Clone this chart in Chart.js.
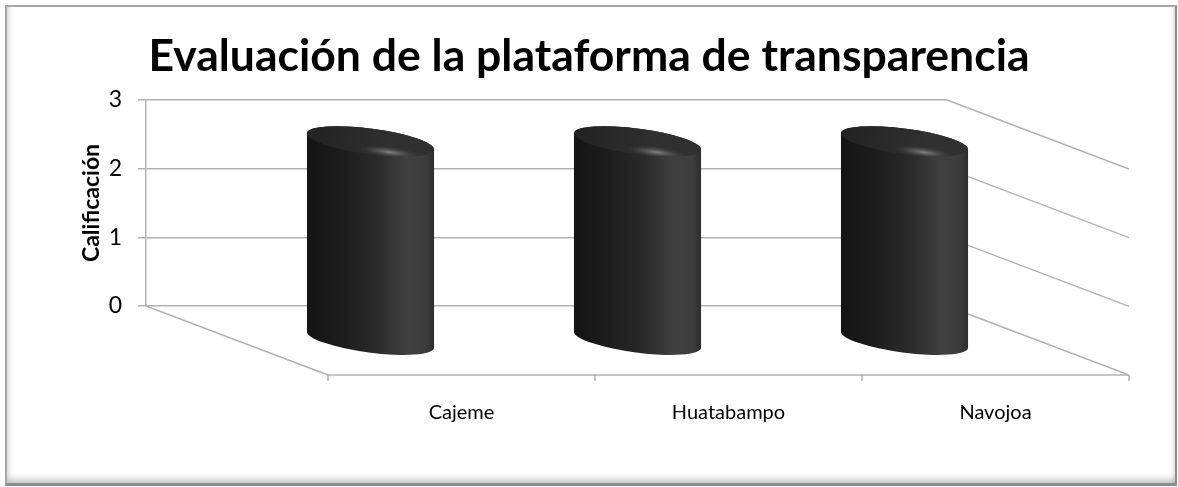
<!DOCTYPE html>
<html>
<head>
<meta charset="utf-8">
<script src="https://cdn.jsdelivr.net/npm/chart.js@4/dist/chart.umd.min.js"></script>
<style>
  html, body { margin: 0; padding: 0; background: #ffffff; }
  #wrap { position: relative; width: 1178px; height: 487px; overflow: hidden; }
  #frame {
    position: absolute; left: 5px; top: 5px; width: 1168px; height: 476px;
    border-top: 2px solid #a6a6a6; border-left: 2px solid #a6a6a6;
    border-right: 2px solid #8c8c8c; border-bottom: 3px solid #8c8c8c;
    box-shadow: inset 4px -7px 6px -3px rgba(0,0,0,0.22), inset -4px 0 5px -3px rgba(0,0,0,0.18);
  }
  canvas { position: absolute; left: 0; top: 0; }
</style>
</head>
<body>
<div id="wrap">
  <div id="frame"></div>
  <canvas id="c" width="1178" height="487"></canvas>
</div>
<script>
// ---- data ----
const categories = ['Cajeme', 'Huatabampo', 'Navojoa'];
const califValues = [2.9, 2.9, 2.9];
const yTickValues = [0, 1, 2, 3];
const chartTitle = 'Evaluación de la plataforma de transparencia';
const yAxisTitle = 'Calificación';

// ---- style ----
const DEPTH_X = 182;
const DEPTH_Y = 69;
const GRID_COLOR = '#b2b2b2';
const FONT = 'Lato, "Open Sans", sans-serif';

const pseudo3d = {
  id: 'pseudo3d',
  beforeDatasetsDraw(chart) {
    const ctx = chart.ctx;
    const xs = chart.scales.x, ys = chart.scales.y;
    const area = chart.chartArea;
    const y0 = ys.getPixelForValue(0);
    ctx.save();
    ctx.strokeStyle = GRID_COLOR;
    ctx.lineWidth = 1.5;
    // right side wall
    yTickValues.forEach(v => {
      const y = ys.getPixelForValue(v);
      ctx.beginPath();
      ctx.moveTo(area.right, y);
      ctx.lineTo(area.right + DEPTH_X, y + DEPTH_Y);
      ctx.stroke();
    });
    // left floor edge
    ctx.beginPath();
    ctx.moveTo(area.left, y0);
    ctx.lineTo(area.left + DEPTH_X, y0 + DEPTH_Y);
    ctx.stroke();
    // front category axis
    const fy = y0 + DEPTH_Y;
    ctx.beginPath();
    ctx.moveTo(area.left + DEPTH_X, fy);
    ctx.lineTo(area.right + DEPTH_X, fy);
    ctx.stroke();
    for (let i = 0; i <= categories.length; i++) {
      const px = xs.getPixelForValue(i - 0.5) + DEPTH_X;
      ctx.beginPath();
      ctx.moveTo(px, fy);
      ctx.lineTo(px, fy + 6);
      ctx.stroke();
    }
    ctx.restore();
  },
  afterDatasetsDraw(chart) {
    const ctx = chart.ctx;
    const meta = chart.getDatasetMeta(0);
    meta.data.forEach(bar => {
      const cx = bar.x + DEPTH_X / 2;
      const topCy = bar.y + DEPTH_Y / 2;
      const botCy = bar.base + DEPTH_Y / 2;
      const rx = bar.width / 2;
      const ry = rx * 0.2;
      const rot = 0.13;
      ctx.save();
      // body
      const g = ctx.createLinearGradient(cx - rx, 0, cx + rx, 0);
      g.addColorStop(0, '#141414');
      g.addColorStop(0.25, '#1c1c1c');
      g.addColorStop(0.55, '#2a2a2a');
      g.addColorStop(0.78, '#404040');
      g.addColorStop(0.93, '#3c3c3c');
      g.addColorStop(1, '#2c2c2c');
      ctx.beginPath();
      ctx.ellipse(cx, botCy, rx, ry, rot, 0, Math.PI, false);
      ctx.ellipse(cx, topCy, rx, ry, rot, Math.PI, Math.PI * 2, false);
      ctx.closePath();
      ctx.fillStyle = g;
      ctx.fill();
      // top face
      ctx.beginPath();
      ctx.ellipse(cx, topCy, rx, ry, rot, 0, Math.PI * 2);
      const tg = ctx.createLinearGradient(cx - rx, topCy - ry, cx + rx * 0.3, topCy + ry);
      tg.addColorStop(0, '#222222');
      tg.addColorStop(1, '#303030');
      ctx.fillStyle = tg;
      ctx.fill();
      ctx.clip();
      // highlight near the front rim
      ctx.save();
      ctx.translate(cx + rx * 0.3, topCy + ry * 0.85);
      ctx.rotate(rot);
      ctx.scale(1, 0.18);
      const hg = ctx.createRadialGradient(0, 0, 0, 0, 0, rx * 0.5);
      hg.addColorStop(0, 'rgba(140,140,140,0.9)');
      hg.addColorStop(1, 'rgba(60,60,60,0)');
      ctx.fillStyle = hg;
      ctx.beginPath();
      ctx.arc(0, 0, rx * 0.5, 0, Math.PI * 2);
      ctx.fill();
      ctx.restore();
      ctx.restore();
    });
  }
};

new Chart(document.getElementById('c'), {
  type: 'bar',
  data: {
    labels: categories,
    datasets: [{
      label: yAxisTitle,
      data: califValues,
      backgroundColor: 'rgba(0,0,0,0)',
      borderWidth: 0,
      categoryPercentage: 1,
      barPercentage: 0.48
    }]
  },
  options: {
    responsive: false,
    animation: false,
    devicePixelRatio: 1,
    layout: { padding: 0 },
    plugins: {
      legend: { display: false },
      tooltip: { enabled: false },
      title: {
        display: true,
        text: chartTitle,
        color: '#000',
        font: { family: FONT, size: 44.5, weight: 'bold', lineHeight: 1.2 },
        padding: { top: 30.3, bottom: 16.3 }
      }
    },
    scales: {
      x: {
        grid: { display: false },
        border: { display: false },
        ticks: {
          color: '#000',
          font: { family: FONT, size: 20 },
          padding: 87,
          labelOffset: DEPTH_X,
          autoSkip: false,
          maxRotation: 0
        },
        afterFit(s) { s.height = 181; }
      },
      y: {
        min: 0,
        max: 3,
        afterBuildTicks(s) { s.ticks = yTickValues.map(v => ({ value: v })); },
        ticks: { color: '#000', font: { family: FONT, size: 23 }, padding: 16 },
        grid: { color: GRID_COLOR, lineWidth: 1.5, tickLength: 8 },
        border: { color: GRID_COLOR, width: 1.5 },
        title: {
          display: true,
          text: yAxisTitle,
          color: '#000',
          font: { family: FONT, size: 23, weight: 'bold', lineHeight: 1.2 },
          padding: { top: 78, bottom: 0 }
        },
        afterFit(s) { s.width = 146; }
      },
      sideWall: {
        type: 'linear',
        position: 'right',
        display: true,
        grid: { display: false },
        border: { display: false },
        ticks: { display: false },
        afterFit(s) { s.width = 231; }
      }
    }
  },
  plugins: [pseudo3d]
});
</script>
</body>
</html>
